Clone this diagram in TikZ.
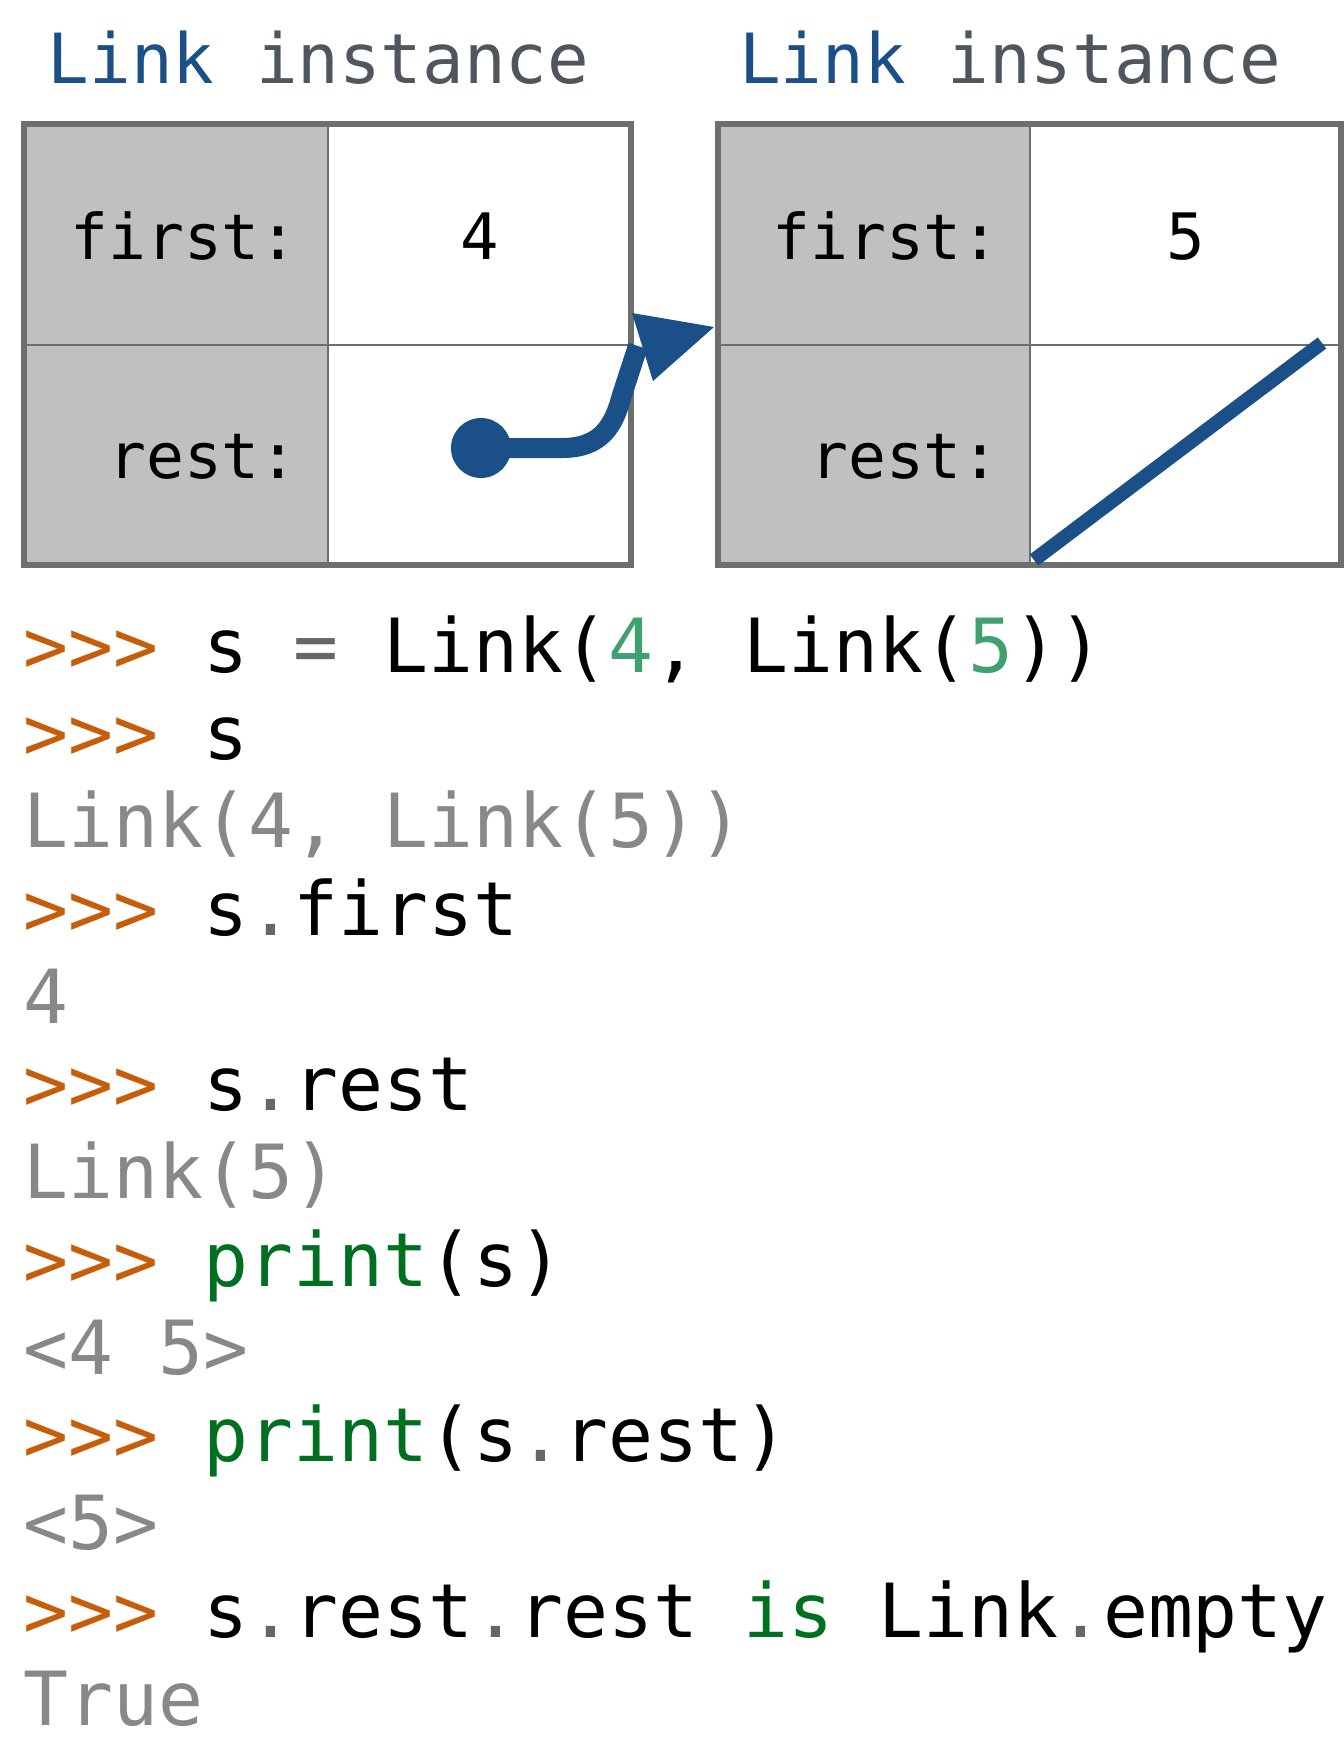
\documentclass[tikz,border=0pt]{standalone}
\usepackage{fontspec}
\setmonofont{DejaVu Sans Mono}
\definecolor{lblue}{HTML}{1A4F87}
\definecolor{lgray}{HTML}{50565D}
\definecolor{boxline}{HTML}{6E6E6E}
\definecolor{cellfill}{HTML}{C0C0C0}
\definecolor{promptc}{HTML}{C65D09}
\definecolor{numc}{HTML}{40A070}
\definecolor{builtinc}{HTML}{007020}
\definecolor{outc}{HTML}{888888}
\definecolor{opc}{HTML}{666666}
\newcommand{\cprompt}{\textcolor{promptc}{>>>}}
\newcommand{\cop}[1]{\textcolor{opc}{#1}}
\newcommand{\cnum}[1]{\textcolor{numc}{#1}}
\newcommand{\cbi}[1]{\textcolor{builtinc}{#1}}
\tikzset{
  titletxt/.style={anchor=base west, inner sep=0pt, font=\ttfamily\fontsize{69.2}{84}\selectfont},
  celltxt/.style={anchor=base east, inner sep=0pt, font=\ttfamily\fontsize{63}{76}\selectfont, text=black},
  valtxt/.style={anchor=base, inner sep=0pt, font=\ttfamily\fontsize{64}{76}\selectfont, text=black},
  codetxt/.style={anchor=base west, inner sep=0pt, font=\ttfamily\fontsize{74.7}{90}\selectfont, text=black},
  outtxt/.style={codetxt, text=outc},
  outerline/.style={draw=boxline, line width=5.5pt},
  innerline/.style={draw=boxline, line width=2.2pt},
  ptr/.style={draw=lblue, line width=20pt, line join=round},
  nullline/.style={draw=lblue, line width=14pt},
}
\begin{document}
\begin{tikzpicture}[x=1pt,y=-1pt]
\useasboundingbox (0,0) rectangle (1344,1741);
% titles
\node[titletxt] (t1) at (47.5,83) {\textcolor{lblue}{Link} \textcolor{lgray}{instance}};
\node[titletxt] (t2) at (739,83) {\textcolor{lblue}{Link} \textcolor{lgray}{instance}};
% box 1
\fill[cellfill] (24,124) rectangle (328,565);
\fill[white] (328,124) rectangle (631,565);
\draw[innerline] (328,124) -- (328,565);
\draw[innerline] (24,345) -- (631,345);
\draw[outerline] (24,124) rectangle (631,565);
% box 2
\fill[cellfill] (718,124) rectangle (1030,565);
\fill[white] (1030,124) rectangle (1341,565);
\draw[innerline] (1030,124) -- (1030,565);
\draw[innerline] (718,345) -- (1341,345);
\draw[outerline] (718,124) rectangle (1341,565);
% cell texts
\node[celltxt] (f1) at (298,259) {first:};
\node[celltxt] (r1) at (298,478) {rest:};
\node[valtxt] (v1) at (479.5,259) {4};
\node[celltxt] (f2) at (1000,259) {first:};
\node[celltxt] (r2) at (1000,478) {rest:};
\node[valtxt] (v2) at (1185.5,259) {5};
% pointer
\coordinate (dot) at (481,448);
\coordinate (tip) at (714,327);
\coordinate (nullA) at (1034,560);
\coordinate (nullB) at (1322,343);
\fill[lblue] (dot) circle (30pt);
\draw[ptr] (dot) -- (562,448) .. controls (602,448) and (614,425) .. (622,395) -- (638,346);
\fill[lblue] (tip) -- (632,313) -- (653,381) -- cycle;
\draw[nullline] (nullA) -- (nullB);
% code
\node[codetxt] (c1) at (23.5,672) {\cprompt{} s \cop{=} Link(\cnum{4}, Link(\cnum{5}))};
\node[codetxt] (c2) at (23.5,759.75) {\cprompt{} s};
\node[outtxt] (c3) at (23.5,847.5) {Link(4, Link(5))};
\node[codetxt] (c4) at (23.5,935.25) {\cprompt{} s\cop{.}first};
\node[outtxt] (c5) at (23.5,1023) {4};
\node[codetxt] (c6) at (23.5,1110.75) {\cprompt{} s\cop{.}rest};
\node[outtxt] (c7) at (23.5,1198.5) {Link(5)};
\node[codetxt] (c8) at (23.5,1286.25) {\cprompt{} \cbi{print}(s)};
\node[outtxt] (c9) at (23.5,1374) {<4 5>};
\node[codetxt] (c10) at (23.5,1461.75) {\cprompt{} \cbi{print}(s\cop{.}rest)};
\node[outtxt] (c11) at (23.5,1549.5) {<5>};
\node[codetxt] (c12) at (23.5,1637.25) {\cprompt{} s\cop{.}rest\cop{.}rest \cbi{is} Link\cop{.}empty};
\node[outtxt] (c13) at (23.5,1725) {True};
\end{tikzpicture}
\end{document}
